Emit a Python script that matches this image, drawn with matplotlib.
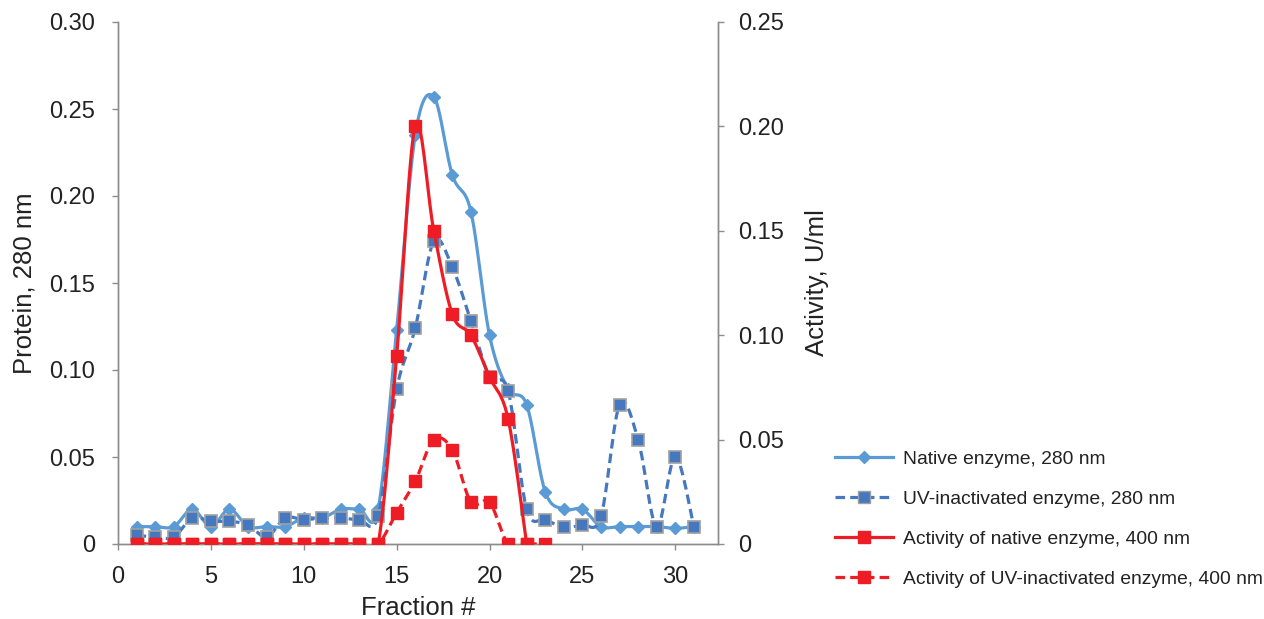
import numpy as np
import matplotlib
matplotlib.use("Agg")
import matplotlib.pyplot as plt
from matplotlib.lines import Line2D

plt.rcParams['font.family'] = ['Liberation Sans', 'DejaVu Sans']

fractions = list(range(1, 32))
native_280 = [0.010, 0.010, 0.010, 0.020, 0.010, 0.020, 0.010, 0.010, 0.010, 0.015,
              0.015, 0.020, 0.020, 0.020, 0.123, 0.235, 0.257, 0.212, 0.191, 0.120,
              0.089, 0.080, 0.030, 0.020, 0.020, 0.010, 0.010, 0.010, 0.010, 0.009, 0.010]
uv_280 = [0.005, 0.004, 0.004, 0.015, 0.013, 0.013, 0.011, 0.004, 0.015, 0.014,
          0.015, 0.015, 0.014, 0.016, 0.089, 0.124, 0.174, 0.159, 0.128, 0.096,
          0.088, 0.020, 0.014, 0.010, 0.011, 0.016, 0.080, 0.060, 0.010, 0.050, 0.010]

act_fractions = list(range(1, 23))
native_act = [0]*14 + [0.090, 0.200, 0.150, 0.110, 0.100, 0.080, 0.060, 0.0]

uv_act_fractions = list(range(1, 24))
uv_act = [0]*14 + [0.015, 0.030, 0.050, 0.045, 0.020, 0.020, 0.0, 0.0, 0.0]


def smooth(x, y, n=20):
    # Excel-like smoothed line (Catmull-Rom as cubic Bezier)
    x = np.asarray(x, float)
    y = np.asarray(y, float)
    P = np.column_stack([x, y])
    out = []
    t = np.linspace(0, 1, n)[:, None]
    for i in range(len(P) - 1):
        p0 = P[i - 1] if i > 0 else P[i]
        p1, p2 = P[i], P[i + 1]
        p3 = P[i + 2] if i + 2 < len(P) else P[i + 1]
        c1 = p1 + (p2 - p0) / 6
        c2 = p2 - (p3 - p1) / 6
        seg = ((1 - t) ** 3) * p1 + 3 * ((1 - t) ** 2) * t * c1 + 3 * (1 - t) * t ** 2 * c2 + t ** 3 * p2
        out.append(seg if i == 0 else seg[1:])
    s = np.vstack(out)
    return s[:, 0], s[:, 1]


c_native = '#5B9BD5'
c_uv = '#4678C0'
c_red = '#EE1C25'
grey = '#8C8C8C'
txt = '#222222'

fig = plt.figure(figsize=(12.64, 6.19), dpi=100)
ax = fig.add_axes([118/1264, 1-544/619, 600/1264, 522/619])
ax2 = ax.twinx()

lw = 2.3
dash = (0, (3, 1.6))
sx, sy = smooth(fractions, native_280)
ax.plot(sx, sy, color=c_native, lw=lw, zorder=2)
ax.plot(fractions, native_280, ls='none', marker='D', ms=6, color=c_native, zorder=2)

sx, sy = smooth(fractions, uv_280)
ax.plot(sx, sy, color=c_uv, lw=lw, ls=dash, zorder=3)
ax.plot(fractions, uv_280, ls='none', marker='s', ms=9, mfc=c_uv, mec='#A0A0A0', mew=1.2, zorder=3)

sx, sy = smooth(act_fractions, native_act)
ax2.plot(sx, sy, color=c_red, lw=lw, zorder=4)
ax2.plot(act_fractions, native_act, ls='none', marker='s', ms=8.5, color=c_red, zorder=4)

sx, sy = smooth(uv_act_fractions, uv_act)
ax2.plot(sx, sy, color=c_red, lw=lw, ls=dash, zorder=5)
ax2.plot(uv_act_fractions, uv_act, ls='none', marker='s', ms=8.5, color=c_red, zorder=5)

ax.set_xlim(0, 32.3)
ax.set_ylim(0, 0.30)
ax2.set_ylim(0, 0.25)
ax.set_xticks(range(0, 31, 5))
ax.set_yticks(np.arange(0, 0.301, 0.05))
ax.set_yticklabels(['0'] + ['%.2f' % v for v in np.arange(0.05, 0.301, 0.05)])
ax2.set_yticks(np.arange(0, 0.251, 0.05))
ax2.set_yticklabels(['0'] + ['%.2f' % v for v in np.arange(0.05, 0.251, 0.05)])

for a in (ax, ax2):
    a.spines['top'].set_visible(False)
    for s in ('left', 'right', 'bottom'):
        a.spines[s].set_color(grey)
        a.spines[s].set_linewidth(1.0)
    a.tick_params(colors=grey, labelcolor=txt, labelsize=17, length=4.5, width=1.0)
ax.tick_params(axis='y', pad=12)
ax.tick_params(axis='x', pad=11)
ax2.tick_params(axis='y', pad=10)

ax.set_xlabel('Fraction #', fontsize=18.5, color=txt, labelpad=6)
ax.set_ylabel('Protein, 280 nm', fontsize=18.5, color=txt, labelpad=9)
ax2.set_ylabel('Activity, U/ml', fontsize=18.5, color=txt, labelpad=15)

handles = [
    Line2D([], [], color=c_native, lw=lw, marker='D', ms=6),
    Line2D([], [], color=c_uv, lw=lw, ls=dash, marker='s', ms=9, mfc=c_uv, mec='#A0A0A0'),
    Line2D([], [], color=c_red, lw=lw, marker='s', ms=8.5),
    Line2D([], [], color=c_red, lw=lw, ls=dash, marker='s', ms=8.5),
]
labels = ['Native enzyme, 280 nm', 'UV-inactivated enzyme, 280 nm',
          'Activity of native enzyme, 400 nm', 'Activity of UV-inactivated enzyme, 400 nm']
fig.legend(handles, labels, loc='upper left', bbox_to_anchor=(818/1264, 1-433/619),
           frameon=False, fontsize=13.9, handlelength=3.0, labelspacing=1.16,
           handletextpad=0.5, labelcolor=txt)

fig.savefig('out.png', dpi=100)
